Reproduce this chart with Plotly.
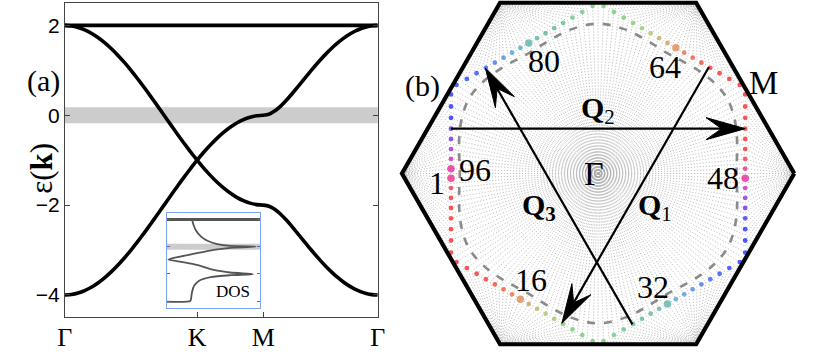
import numpy as np
import plotly.graph_objects as go

# ---------------- panel (a): band structure along Γ-K-M-Γ ----------------
k_path = [0.0, 0.05, 0.1, 0.15, 0.2, 0.25, 0.3, 0.35, 0.4, 0.45, 0.5, 0.55, 0.6, 0.65, 0.7, 0.75,
          0.8, 0.85, 0.9, 0.95, 1.0, 1.05, 1.1, 1.15, 1.2, 1.25, 1.3, 1.35, 1.4, 1.45, 1.5,
          1.5433, 1.5866, 1.6299, 1.6732, 1.7165, 1.7598, 1.8031, 1.8464, 1.8897, 1.933,
          1.9763, 2.0196, 2.0629, 2.1062, 2.1495, 2.1928, 2.2361, 2.2794, 2.3227, 2.366]
band_a = [2.0, 1.989, 1.956, 1.902, 1.827, 1.732, 1.618, 1.486, 1.338, 1.176, 1.0, 0.813, 0.618,
          0.416, 0.209, 0.0, -0.209, -0.416, -0.618, -0.813, -1.0, -1.176, -1.338, -1.486, -1.618,
          -1.732, -1.827, -1.902, -1.956, -1.989, -2.0,
          -2.024, -2.094, -2.198, -2.328, -2.474, -2.628, -2.784, -2.940, -3.091, -3.236,
          -3.372, -3.497, -3.611, -3.711, -3.798, -3.870, -3.926, -3.967, -3.992, -4.0]
band_b = [-4.0, -3.989, -3.956, -3.902, -3.827, -3.732, -3.618, -3.486, -3.338, -3.176, -3.0,
          -2.813, -2.618, -2.416, -2.209, -2.0, -1.791, -1.584, -1.382, -1.187, -1.0, -0.824,
          -0.662, -0.514, -0.382, -0.268, -0.173, -0.098, -0.044, -0.011, 0.0,
          0.024, 0.094, 0.198, 0.328, 0.474, 0.628, 0.784, 0.940, 1.091, 1.236,
          1.372, 1.497, 1.611, 1.711, 1.798, 1.870, 1.926, 1.967, 1.992, 2.0]
flat_k = [0.0, 2.366]
flat_e = [2.0, 2.0]
k_ticks = [0.0, 1.0, 1.5, 2.366]
k_labels = ["Γ", "K", "M", "Γ"]
e_ticks = [2, 0, -2, -4]
fermi_window = [-0.18, 0.18]

# inset: density of states (DOS on horizontal, energy vertical)
dos_val = [1.04, 1.11, 1.2, 1.4, 1.67, 2.07, 2.6, 3.63, 2.73, 1.93, 1.13, 0.6, 0.07,
           0.6, 1.27, 1.93, 2.6, 3.53, 2.6, 1.8, 1.33, 1.13, 1.04, 1.0, 0.97, 0.0]
dos_e = [2.0, 1.55, 1.19, 0.76, 0.43, 0.19, 0.05, 0.0, -0.07, -0.24, -0.52, -0.71, -0.95,
         -1.12, -1.36, -1.71, -1.9, -2.02, -2.1, -2.24, -2.5, -2.86, -3.33, -3.81, -4.0, -4.05]
dos_flat_val = [0.0, 3.83]
dos_flat_e = [2.0, 2.0]
dos_window = [-0.22, 0.22]
dos_ticks = [-4, -2, 0, 2]

# ---------------- panel (b): Brillouin zone with patches ----------------
n_patches = 96
first_patch_angle = 181.875      # degrees, patch 1
patch_step = 3.75                # degrees between patch centres
big_patches = [1, 16, 32, 48, 64, 80, 96]
fs_apothem = 0.75                # van Hove Fermi surface (hexagon through M points), units of |ΓK|
bz_corner_angles = [0, 60, 120, 180, 240, 300]
contour_angles = [0, 5, 10, 15, 20, 25, 30]
contour_radii = [0.705, 0.71, 0.72, 0.7325, 0.745, 0.755, 0.76]

patch_colors48 = [
    "#e8127a", "#f0203c",
    "#fa1010", "#fa1010", "#fa1010", "#fa1010", "#fa1010", "#fa1010", "#fa1010", "#fa1010", "#fa1010", "#f81a10",
    "#f42c14", "#ee4420", "#e65c2a",
    "#d97a3c",
    "#c9914a", "#b9a452", "#a5b85a", "#8cc45c", "#74c860",
    "#60c860", "#5cc860", "#5cc860", "#5cc862", "#58c468",
    "#54be72", "#50b87e", "#4cb288", "#4aac90", "#48a898",
    "#47a8a0",
    "#3e9cc0", "#3a8cd6", "#347ae6", "#2a64f0",
    "#1e4cf8", "#1438fc", "#0c28ff", "#0820ff", "#0618ff", "#0410ff", "#0410ff",
    "#3014f0", "#6010e0", "#9010d0", "#c010b0", "#e0108a",
]

q_names = ["<b>Q</b><sub>1</sub>", "<b>Q</b><sub>2</sub>", "<b>Q<sub>3</sub></b>"]
q_x0 = [0.565, -0.75, 0.175]
q_y0 = [0.54, 0.2275, -0.765]
q_x1 = [-0.185, 0.75, -0.575]
q_y1 = [-0.76, 0.2275, 0.535]
q_label_x = [0.29, 0.0, -0.3]
q_label_y = [-0.17, 0.32, -0.17]

bz_text = ["Γ", "K", "M", "80", "64", "96", "1", "48", "16", "32"]
bz_text_x = [-0.02, 1.077, 0.842, -0.278, 0.342, -0.628, -0.823, 0.637, -0.343, 0.282]
bz_text_y = [0.0, -0.005, 0.46, 0.57, 0.54, 0.02, -0.05, -0.025, -0.54, -0.575]
bz_text_size = [34, 33, 33, 32, 32, 32, 32, 32, 32, 32]

SERIF = "Liberation Serif, Times New Roman, serif"
SANS = "Liberation Sans, Arial, sans-serif"
W, H = 830, 352

fig = go.Figure()

# ---- panel (a) traces ----
fig.add_trace(go.Scatter(x=k_path, y=band_a, mode="lines", line=dict(color="black", width=3.6, shape="spline", smoothing=0.6),
                         xaxis="x", yaxis="y", hoverinfo="skip"))
fig.add_trace(go.Scatter(x=k_path, y=band_b, mode="lines", line=dict(color="black", width=3.6, shape="spline", smoothing=0.6),
                         xaxis="x", yaxis="y", hoverinfo="skip"))
fig.add_trace(go.Scatter(x=flat_k, y=flat_e, mode="lines", line=dict(color="black", width=3.6),
                         xaxis="x", yaxis="y", hoverinfo="skip"))

# ---- inset traces ----
fig.add_trace(go.Scatter(x=dos_flat_val, y=dos_flat_e, mode="lines", line=dict(color="#555555", width=3),
                         xaxis="x2", yaxis="y2", hoverinfo="skip"))
fig.add_trace(go.Scatter(x=dos_val, y=dos_e, mode="lines", line=dict(color="#555555", width=1.8, shape="spline", smoothing=0.7),
                         xaxis="x2", yaxis="y2", hoverinfo="skip"))

# ---- panel (b) traces ----
rad_x, rad_y = [], []
for m in range(2 * n_patches):
    deg = 1.875 * m
    alpha = 60 * round(deg / 60)
    r = fs_apothem / np.cos(np.deg2rad(deg - alpha))
    fx, fy = r * np.cos(np.deg2rad(deg)), r * np.sin(np.deg2rad(deg))
    cx, cy = np.cos(np.deg2rad(alpha)), np.sin(np.deg2rad(alpha))
    rad_x += [0.0, fx, cx, None]
    rad_y += [0.0, fy, cy, None]
fig.add_trace(go.Scatter(x=rad_x, y=rad_y, mode="lines", line=dict(color="#ababab", width=0.75, dash="1.2px,1.8px"),
                         xaxis="x3", yaxis="y3", hoverinfo="skip"))

cont_x, cont_y = [], []
for deg in list(range(0, 360, 5)) + [0]:
    red = deg % 60
    if red > 30:
        red = 60 - red
    r = contour_radii[contour_angles.index(red)]
    cont_x.append(r * np.cos(np.deg2rad(deg)))
    cont_y.append(r * np.sin(np.deg2rad(deg)))
fig.add_trace(go.Scatter(x=cont_x, y=cont_y, mode="lines", line=dict(color="#8a8a8a", width=2.6, dash="8px,9px", shape="spline"),
                         xaxis="x3", yaxis="y3", hoverinfo="skip"))

dot_x, dot_y, dot_c, dot_s = [], [], [], []
for n in range(1, n_patches + 1):
    deg = first_patch_angle + patch_step * (n - 1)
    alpha = 60 * round(deg / 60)
    r = fs_apothem / np.cos(np.deg2rad(deg - alpha))
    dot_x.append(r * np.cos(np.deg2rad(deg)))
    dot_y.append(r * np.sin(np.deg2rad(deg)))
    dot_c.append(patch_colors48[(n - 1) % 48])
    dot_s.append(7.5 if n in big_patches else 4.8)
fig.add_trace(go.Scatter(x=dot_x, y=dot_y, mode="markers", marker=dict(color=dot_c, size=dot_s, line=dict(width=0)),
                         xaxis="x3", yaxis="y3", hoverinfo="skip"))

# arrows
head_len, head_half, head_notch = 0.2, 0.056, 0.12
for x0, y0, x1, y1 in zip(q_x0, q_y0, q_x1, q_y1):
    d = np.array([x1 - x0, y1 - y0])
    d = d / np.linalg.norm(d)
    nrm = np.array([-d[1], d[0]])
    tip = np.array([x1, y1])
    notch = tip - head_notch * d
    b1 = tip - head_len * d + head_half * nrm
    b2 = tip - head_len * d - head_half * nrm
    fig.add_trace(go.Scatter(x=[x0, notch[0]], y=[y0, notch[1]], mode="lines", line=dict(color="black", width=2.2),
                             xaxis="x3", yaxis="y3", hoverinfo="skip"))
    fig.add_trace(go.Scatter(x=[tip[0], b1[0], notch[0], b2[0], tip[0]], y=[tip[1], b1[1], notch[1], b2[1], tip[1]],
                             mode="lines", fill="toself", fillcolor="black", line=dict(color="black", width=1),
                             xaxis="x3", yaxis="y3", hoverinfo="skip"))

hex_x = [np.cos(np.deg2rad(a)) for a in bz_corner_angles] + [1.0]
hex_y = [np.sin(np.deg2rad(a)) for a in bz_corner_angles] + [0.0]
fig.add_trace(go.Scatter(x=hex_x, y=hex_y, mode="lines", line=dict(color="black", width=4.2),
                         xaxis="x3", yaxis="y3", hoverinfo="skip"))

# ---------------- layout ----------------
annotations = []
for t, x, y, s in zip(bz_text, bz_text_x, bz_text_y, bz_text_size):
    annotations.append(dict(text=t, x=x, y=y, xref="x3", yref="y3", showarrow=False,
                            font=dict(family=SERIF, size=s, color="black")))
for t, x, y in zip(q_names, q_label_x, q_label_y):
    annotations.append(dict(text=t, x=x, y=y, xref="x3", yref="y3", showarrow=False,
                            font=dict(family=SERIF, size=30, color="black")))
annotations += [
    dict(text="(a)", x=17.5 / W, y=1 - 63 / H, xref="paper", yref="paper", showarrow=False,
         font=dict(family=SERIF, size=30, color="black")),
    dict(text="(b)", x=423 / W, y=1 - 67.5 / H, xref="paper", yref="paper", showarrow=False,
         font=dict(family=SERIF, size=30, color="black")),
    dict(text="ε(<b>k</b>)", x=14 / W, y=1 - 171 / H, xref="paper", yref="paper", showarrow=False,
         textangle=-90, font=dict(family=SERIF, size=31, color="black")),
    dict(text="DOS", x=210 / W, y=1 - 307 / H, xref="paper", yref="paper", showarrow=False,
         font=dict(family=SERIF, size=17, color="black")),
]

shapes = [
    dict(type="rect", xref="x domain", yref="y", x0=0, x1=1, y0=fermi_window[0], y1=fermi_window[1],
         fillcolor="#cccccc", line=dict(width=0), layer="below"),
    dict(type="rect", xref="x2 domain", yref="y2", x0=0, x1=1, y0=dos_window[0], y1=dos_window[1],
         fillcolor="#cccccc", line=dict(width=0), layer="below"),
]

fig.update_layout(
    width=W, height=H, margin=dict(l=0, r=0, t=0, b=0),
    paper_bgcolor="white", plot_bgcolor="rgba(0,0,0,0)", showlegend=False,
    annotations=annotations, shapes=shapes,
    xaxis=dict(domain=[58 / W, 377 / W], range=[0, 2.366], anchor="y", tickvals=k_ticks, ticktext=k_labels,
               ticks="inside", ticklen=5, tickcolor="#444", showline=True, linecolor="#444", linewidth=1,
               mirror=True, showgrid=False, zeroline=False, ticklabelstandoff=-4,
               tickfont=dict(family=SERIF, size=26, color="black")),
    yaxis=dict(domain=[1 - 322 / H, 1 - 3 / H], range=[-4.5, 2.5], anchor="x", tickvals=e_ticks,
               ticks="inside", ticklen=5, tickcolor="#444", showline=True, linecolor="#444", linewidth=1,
               mirror="ticks", showgrid=False, zeroline=False, tickfont=dict(family=SANS, size=21, color="black")),
    xaxis2=dict(domain=[161.7 / W, 257.3 / W], range=[0, 3.83], anchor="y2", showticklabels=False, ticks="",
                showline=True, linecolor="#7ea6f0", linewidth=1.2, mirror=True, showgrid=False, zeroline=False),
    yaxis2=dict(domain=[1 - 312.3 / H, 1 - 215.7 / H], range=[-4.5, 2.5], anchor="x2", tickvals=dos_ticks,
                showticklabels=False, ticks="inside", ticklen=3, tickcolor="#3a6fe0", showline=True,
                linecolor="#7ea6f0", linewidth=1.2, mirror="ticks", showgrid=False, zeroline=False),
    xaxis3=dict(domain=[391.7 / W, 811.7 / W], range=[-1.05, 1.05], anchor="y3", visible=False),
    yaxis3=dict(domain=[0, 1], range=[-0.88, 0.88], anchor="x3", visible=False),
)

fig.write_html("out.html", config={"displayModeBar": False},
               post_script="document.body.style.margin='0';document.body.style.overflow='hidden';")
